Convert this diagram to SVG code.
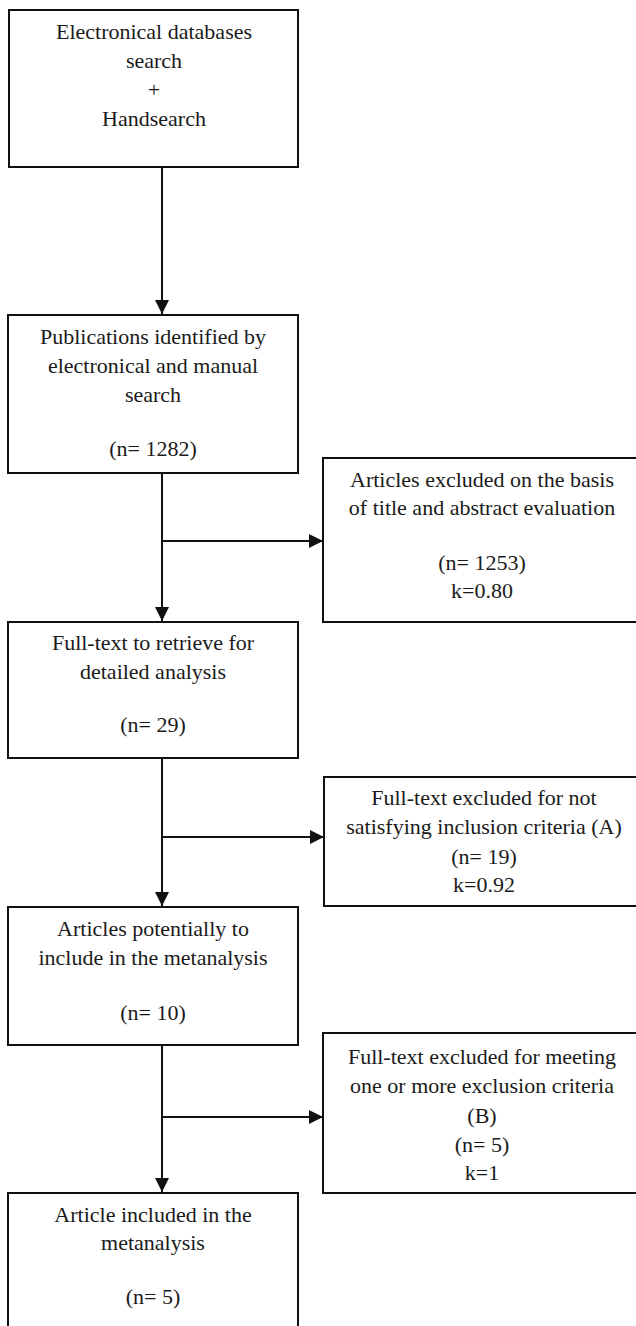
<svg xmlns="http://www.w3.org/2000/svg" width="636" height="1326" viewBox="0 0 636 1326">
<style>
.box{fill:#fff;stroke:#111;stroke-width:2}
.conn{fill:none;stroke:#111;stroke-width:2}
text{font-family:"Liberation Serif","Times New Roman",serif;font-size:22px;fill:#1a1a1a;text-anchor:middle}
</style>
<defs>
<marker id="arr" markerUnits="userSpaceOnUse" markerWidth="15" markerHeight="15" refX="14" refY="7" orient="auto">
<path d="M0,0 L14,7 L0,14 z" fill="#111"/>
</marker>
</defs>
<rect width="636" height="1326" fill="#fff"/>
<g id="connectors">
<line class="conn" x1="162" y1="167" x2="162" y2="314" marker-end="url(#arr)"/>
<line class="conn" x1="162" y1="473" x2="162" y2="621" marker-end="url(#arr)"/>
<line class="conn" x1="162" y1="541" x2="323" y2="541" marker-end="url(#arr)"/>
<line class="conn" x1="162" y1="758" x2="162" y2="906" marker-end="url(#arr)"/>
<line class="conn" x1="162" y1="837" x2="324" y2="837" marker-end="url(#arr)"/>
<line class="conn" x1="162" y1="1045" x2="162" y2="1192" marker-end="url(#arr)"/>
<line class="conn" x1="162" y1="1117" x2="323" y2="1117" marker-end="url(#arr)"/>
</g>
<g id="search">
<rect class="box" x="9" y="10" width="289" height="157"/>
<text x="154" y="39">Electronical databases</text>
<text x="154" y="68">search</text>
<text x="154" y="97">+</text>
<text x="154" y="126">Handsearch</text>
</g>
<g id="identified">
<rect class="box" x="8" y="315" width="290" height="158"/>
<text x="153" y="344">Publications identified by</text>
<text x="153" y="373">electronical and manual</text>
<text x="153" y="402">search</text>
<text x="153" y="456">(n= 1282)</text>
</g>
<g id="excluded1">
<rect class="box" x="323" y="458" width="320" height="164"/>
<text x="482" y="487">Articles excluded on the basis</text>
<text x="482" y="515">of title and abstract evaluation</text>
<text x="482" y="570">(n= 1253)</text>
<text x="482" y="598">k=0.80</text>
</g>
<g id="fulltext">
<rect class="box" x="8" y="622" width="290" height="136"/>
<text x="153" y="650">Full-text to retrieve for</text>
<text x="153" y="679">detailed analysis</text>
<text x="153" y="732">(n= 29)</text>
</g>
<g id="excluded2">
<rect class="box" x="324" y="777" width="320" height="129"/>
<text x="484" y="805">Full-text excluded for not</text>
<text x="484" y="834">satisfying inclusion criteria (A)</text>
<text x="484" y="864">(n= 19)</text>
<text x="484" y="892">k=0.92</text>
</g>
<g id="potential">
<rect class="box" x="8" y="907" width="290" height="138"/>
<text x="153" y="936">Articles potentially to</text>
<text x="153" y="965">include in the metanalysis</text>
<text x="153" y="1020">(n= 10)</text>
</g>
<g id="excluded3">
<rect class="box" x="323" y="1033" width="320" height="160"/>
<text x="482" y="1064">Full-text excluded for meeting</text>
<text x="482" y="1093">one or more exclusion criteria</text>
<text x="482" y="1123">(B)</text>
<text x="482" y="1152">(n= 5)</text>
<text x="482" y="1180">k=1</text>
</g>
<g id="included">
<rect class="box" x="8" y="1193" width="290" height="140"/>
<text x="153" y="1222">Article included in the</text>
<text x="153" y="1250">metanalysis</text>
<text x="153" y="1304">(n= 5)</text>
</g>
</svg>
